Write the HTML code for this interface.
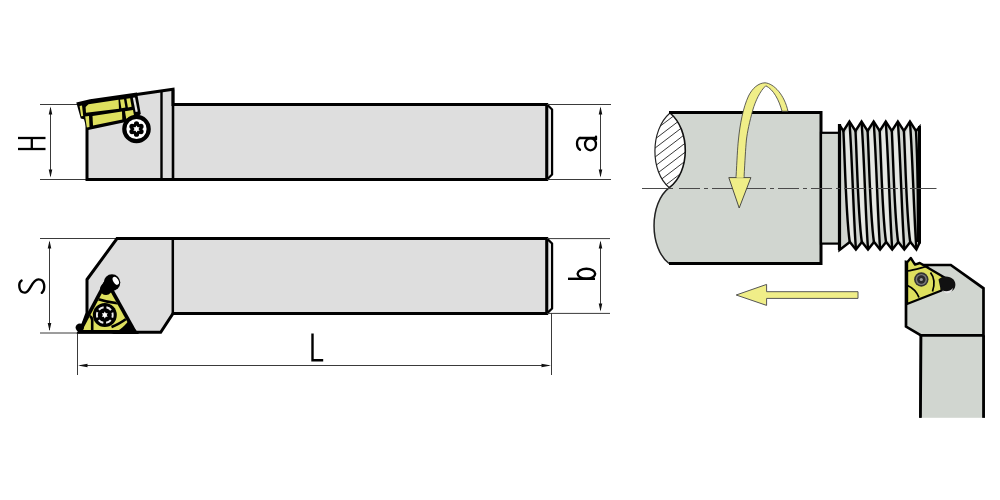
<!DOCTYPE html>
<html><head><meta charset="utf-8">
<style>
html,body{margin:0;padding:0;background:#fff;width:1000px;height:500px;overflow:hidden;font-family:"Liberation Sans",sans-serif;}
svg{display:block;}
</style></head>
<body>
<svg width="1000" height="500" viewBox="0 0 1000 500">
<rect x="0" y="0" width="1000" height="500" fill="#fff"/>

<!-- ========== TOP HOLDER ========== -->
<g id="top">
  <!-- dimension H -->
  <g stroke="#3a3a3a" stroke-width="1" fill="none">
    <line x1="40" y1="104.5" x2="80" y2="104.5"/>
    <line x1="40" y1="179.5" x2="87" y2="179.5"/>
    <line x1="50.5" y1="108" x2="50.5" y2="176"/>
  </g>
  <path d="M50.5 106.5 L48.7 114.5 L52.3 114.5 Z M50.5 177.5 L48.7 169.5 L52.3 169.5 Z" fill="#111"/>
  <g stroke="#000" stroke-width="2.3" fill="none">
    <line x1="18" y1="138" x2="45.5" y2="138"/>
    <line x1="18" y1="149" x2="45.5" y2="149"/>
    <line x1="31.8" y1="138" x2="31.8" y2="149"/>
  </g>
  <!-- body -->
  <path d="M552.1 109.5 L552.1 174.5 L547 179.5 L547 104.5 Z" fill="#e6e6e6" stroke="#000" stroke-width="2.2" stroke-linejoin="round"/>
  <path d="M87 124 L87 179.5 L546.7 179.5 L546.7 104.5 L173 104.5 L173 89.2 L135 94.8 Z" fill="#dedede" stroke="#000" stroke-width="3" stroke-linejoin="miter"/>
  <line x1="161.5" y1="91" x2="161.5" y2="179" stroke="#000" stroke-width="2.4"/>
  <line x1="173" y1="89.5" x2="173" y2="179" stroke="#000" stroke-width="2.6"/>
    <!-- insert -->
  <path d="M76.3 102.5 L90 99.3 L137 92.5 L140.8 114 L133 120.5 L87 130.2 L84 119.2 L80.8 118.6 Z" fill="#000"/>
  <g fill="#dee05e">
    <path d="M79.6 106 L82 105.6 L83.2 116 L81.2 116.3 Z"/>
    <path d="M85.6 107 L88.5 104.3 L118.5 99.8 L119 108.8 L86 112.8 Z"/>
    <path d="M120 99.8 L124 99.2 L125.4 107.6 L121.4 108.2 Z"/>
    <path d="M126.4 98.8 L130.1 98.3 L131.6 106.8 L127.9 107.4 Z"/>
    <path d="M85.2 116.6 L89 116.1 L89.5 127 L86.8 127.6 Z"/>
    <path d="M92.5 116 L122 111.6 L122.3 119.6 L93 125.4 Z"/>
    <path d="M125 111.3 L133 110 L134.3 117 L126.2 118.8 Z"/>
  </g>
  <path d="M132.8 97.8 L135 97.4 L137.8 111.6 L135.6 112.1 Z" fill="#e6e6e6"/>
  <!-- screw -->
  <circle cx="136.5" cy="129" r="12.2" fill="#fff" stroke="#000" stroke-width="4.2"/>
  <g fill="#000">
    <circle cx="136.5" cy="129" r="5.8"/>
    <circle cx="136.50" cy="123.80" r="2.6"/><circle cx="141.00" cy="126.40" r="2.6"/><circle cx="141.00" cy="131.60" r="2.6"/><circle cx="136.50" cy="134.20" r="2.6"/><circle cx="132.00" cy="131.60" r="2.6"/><circle cx="132.00" cy="126.40" r="2.6"/>
  </g>
  <path d="M136.50 125.40 L137.50 127.27 L139.62 127.20 L138.50 129.00 L139.62 130.80 L137.50 130.73 L136.50 132.60 L135.50 130.73 L133.38 130.80 L134.50 129.00 L133.38 127.20 L135.50 127.27 Z" fill="#fff"/>
  <!-- dimension a -->
  <g stroke="#3a3a3a" stroke-width="1" fill="none">
    <line x1="547" y1="104.5" x2="611" y2="104.5"/>
    <line x1="547" y1="179.5" x2="611" y2="179.5"/>
    <line x1="600.5" y1="108" x2="600.5" y2="176"/>
  </g>
  <path d="M600.5 106.5 L598.7 114.5 L602.3 114.5 Z M600.5 177.5 L598.7 169.5 L602.3 169.5 Z" fill="#111"/>
  <g stroke="#000" stroke-width="2.3" fill="none" stroke-linecap="round">
    <path d="M579.5 138 L595.8 138 M596 136.6 L596 139.4"/>
    <ellipse cx="590.5" cy="144.3" rx="5.5" ry="6"/>
    <path d="M580 138 C576 139.5 576 147 580 149.8"/>
  </g>
</g>

<!-- ========== BOTTOM HOLDER ========== -->
<g id="bottom">
  <g stroke="#3a3a3a" stroke-width="1" fill="none">
    <line x1="40" y1="238.5" x2="117" y2="238.5"/>
    <line x1="40" y1="333" x2="78" y2="333"/>
    <line x1="49.5" y1="242" x2="49.5" y2="330"/>
    <line x1="77.5" y1="333" x2="77.5" y2="375"/>
    <line x1="551.5" y1="313" x2="551.5" y2="375"/>
    <line x1="80" y1="365.5" x2="549" y2="365.5"/>
  </g>
  <path d="M49.5 240.5 L47.7 248.5 L51.3 248.5 Z M49.5 331 L47.7 323 L51.3 323 Z M78 365.5 L87.5 363.7 L87.5 367.3 Z M551 365.5 L541.5 363.7 L541.5 367.3 Z" fill="#111"/>
  <path d="M21.6 280.6 C18 283 18.3 293 25.2 292.6 C30.5 292.2 31.5 279.6 38.4 279.4 C45 279.3 45.8 289 41.8 292.8" stroke="#000" stroke-width="2.4" fill="none" stroke-linecap="round"/>
  <!-- body -->
  <path d="M552.1 243.5 L552.1 308.5 L547 313.4 L547 238.6 Z" fill="#e6e6e6" stroke="#000" stroke-width="2.2" stroke-linejoin="round"/>
  <path d="M87 279.5 L117 238.6 L546.7 238.6 L546.7 313.4 L173 313.4 L160.7 332.3 L80 332.3 L87 313 Z" fill="#dedede" stroke="#000" stroke-width="3" stroke-linejoin="miter"/>
  <line x1="172.8" y1="239" x2="172.8" y2="314" stroke="#000" stroke-width="2.5"/>
    <!-- insert -->
  <path d="M103.7 282 L109.3 282 L137.9 333.5 L76.5 333.5 Z" fill="#000"/>
  <path d="M106.5 284.4 L82.5 329.9 L131.8 329.9 Z" fill="#dee05e"/>
  <defs><clipPath id="tri"><path d="M106.5 284.4 L82.5 329.9 L131.8 329.9 Z"/></clipPath></defs>
  <g stroke="#000" fill="none" stroke-width="2.6" clip-path="url(#tri)">
    <path d="M94 298 C100 300 109 302.5 119 303.5"/>
    <path d="M83 314.5 C88 313.5 91.5 316 92.2 320 L92.2 332"/>
    <path d="M111.5 327 C117 325 122 322 127.5 318"/>
  </g>
  <path d="M111 334 C117 332 123.5 327.5 128.5 321 L139 334 Z" fill="#000"/>
  <circle cx="104.8" cy="315" r="12" fill="#000"/>
  <circle cx="104.8" cy="315" r="7.9" fill="none" stroke="#ececec" stroke-width="1.9" stroke-dasharray="5.4 2.87" stroke-dashoffset="2.7"/>
  <path d="M104.80 311.60 L105.75 313.35 L107.74 313.30 L106.70 315.00 L107.74 316.70 L105.75 316.65 L104.80 318.40 L103.85 316.65 L101.86 316.70 L102.90 315.00 L101.86 313.30 L103.85 313.35 Z" fill="#fff"/>
  <path d="M106 289 L111.5 283" stroke="#000" stroke-width="12" stroke-linecap="round"/>
  <circle cx="112" cy="282.6" r="8.3" fill="#000"/>
  <ellipse cx="115.8" cy="280.8" rx="2.6" ry="4.4" fill="#fff" transform="rotate(-30 115.8 280.8)"/>
  <circle cx="79.8" cy="327.6" r="4.2" fill="#000"/>
  <!-- dimension b -->
  <g stroke="#3a3a3a" stroke-width="1" fill="none">
    <line x1="547" y1="238.6" x2="610" y2="238.6"/>
    <line x1="547" y1="313.4" x2="610" y2="313.4"/>
    <line x1="600.5" y1="242" x2="600.5" y2="310"/>
  </g>
  <path d="M600.5 240.6 L598.7 248.6 L602.3 248.6 Z M600.5 311.4 L598.7 303.4 L602.3 303.4 Z" fill="#111"/>
  <g stroke="#000" stroke-width="2.4" fill="none">
    <line x1="568" y1="278.8" x2="595" y2="278.8"/>
    <ellipse cx="586.4" cy="273.8" rx="8.8" ry="5"/>
  </g>
  <!-- L -->
  <path d="M312.5 333.6 L312.5 360.2 L323.2 360.2" stroke="#000" stroke-width="2.4" fill="none"/>
</g>

<!-- ========== RIGHT SIDE ========== -->
<g id="right">
  <!-- workpiece -->
  <path d="M669 112.6 L821 112.6 L821 263.5 L669 263.5 C649 248 649 203 669.3 187.7 Z" fill="#d1d6d0"/>
  <defs><clipPath id="lens"><path d="M670 113 C650 130 650 172 669.3 187.7 C690.5 172 690.5 130 670 113 Z"/></clipPath></defs>
  <path d="M670 113 C650 130 650 172 669.3 187.7 C690.5 172 690.5 130 670 113 Z" fill="#fff"/>
  <g stroke="#222" stroke-width="0.9" clip-path="url(#lens)">
    <line x1="650" y1="124.9" x2="690" y2="94.5"/><line x1="650" y1="133.9" x2="690" y2="103.5"/><line x1="650" y1="142.9" x2="690" y2="112.5"/><line x1="650" y1="151.9" x2="690" y2="121.5"/><line x1="650" y1="160.9" x2="690" y2="130.5"/><line x1="650" y1="169.9" x2="690" y2="139.5"/><line x1="650" y1="178.9" x2="690" y2="148.5"/><line x1="650" y1="187.9" x2="690" y2="157.5"/><line x1="650" y1="196.9" x2="690" y2="166.5"/>
  </g>
  <path d="M670 113 C650 130 650 172 669.3 187.7" fill="none" stroke="#222" stroke-width="1.2"/>
  <path d="M669.3 187.7 C690.5 172 690.5 130 670 113" fill="none" stroke="#111" stroke-width="1.6"/>
  <path d="M669.3 187.7 C649 203 649 248 669 263.5" fill="none" stroke="#222" stroke-width="1.5"/>
  <path d="M669 112.6 L821 112.6 L821 263.5 L669 263.5" fill="none" stroke="#000" stroke-width="3"/>
  <!-- neck -->
  <rect x="821" y="132.8" width="19" height="110.8" fill="#d1d6d0" stroke="#000" stroke-width="2.2"/>
  <!-- thread -->
  <path d="M839.5 125 L843.4 131 L849.45 121.5 L855.50 131 L861.55 121.5 L867.60 131 L873.65 121.5 L879.70 131 L885.75 121.5 L891.80 131 L897.85 121.5 L903.90 131 L909.95 121.5 L916.00 131 L919.5 127 L919.5 243 L916.40 249.5 L910.35 242 L904.30 249.5 L898.25 242 L892.20 249.5 L886.15 242 L880.10 249.5 L874.05 242 L868.00 249.5 L861.95 242 L855.90 249.5 L849.85 242 L839.5 250 Z" fill="#d0d4cf" stroke="#000" stroke-width="2.4" stroke-linejoin="miter" stroke-miterlimit="3"/>
  <g fill="#e6e8e4">
    <path d="M845.20 134 C846.60 160 847.60 215 851.20 241 L853.90 242 C851.40 215 850.40 150 848.40 126.5 Z"/><path d="M857.30 134 C858.70 160 859.70 215 863.30 241 L866.00 242 C863.50 215 862.50 150 860.50 126.5 Z"/><path d="M869.40 134 C870.80 160 871.80 215 875.40 241 L878.10 242 C875.60 215 874.60 150 872.60 126.5 Z"/><path d="M881.50 134 C882.90 160 883.90 215 887.50 241 L890.20 242 C887.70 215 886.70 150 884.70 126.5 Z"/><path d="M893.60 134 C895.00 160 896.00 215 899.60 241 L902.30 242 C899.80 215 898.80 150 896.80 126.5 Z"/><path d="M905.70 134 C907.10 160 908.10 215 911.70 241 L914.40 242 C911.90 215 910.90 150 908.90 126.5 Z"/>
  </g>
  <g stroke="#000" fill="none" stroke-width="2.4">
    <path d="M843.40 131 C844.90 160 845.90 215 849.70 242"/><path d="M849.45 122.5 C851.90 150 853.40 215 855.90 248.5"/><path d="M855.50 131 C857.00 160 858.00 215 861.80 242"/><path d="M861.55 122.5 C864.00 150 865.50 215 868.00 248.5"/><path d="M867.60 131 C869.10 160 870.10 215 873.90 242"/><path d="M873.65 122.5 C876.10 150 877.60 215 880.10 248.5"/><path d="M879.70 131 C881.20 160 882.20 215 886.00 242"/><path d="M885.75 122.5 C888.20 150 889.70 215 892.20 248.5"/><path d="M891.80 131 C893.30 160 894.30 215 898.10 242"/><path d="M897.85 122.5 C900.30 150 901.80 215 904.30 248.5"/><path d="M903.90 131 C905.40 160 906.40 215 910.20 242"/><path d="M909.95 122.5 C912.40 150 913.90 215 916.40 248.5"/><path d="M916.00 131 C917.50 160 918.50 215 917.50 242"/>
  </g>
  <line x1="839.5" y1="124" x2="839.5" y2="250" stroke="#000" stroke-width="3.2"/>
  <line x1="919.5" y1="126" x2="919.5" y2="243.5" stroke="#000" stroke-width="3"/>
  <!-- centerline -->
  <g stroke="#4a4a4a" stroke-width="1">
    <line x1="642" y1="188.5" x2="673" y2="188.5"/>
    <line x1="679" y1="188.5" x2="931" y2="188.5" stroke-dasharray="21 4 4 4"/>
    <line x1="910" y1="188.5" x2="936.5" y2="188.5"/>
  </g>
  <!-- curved arrow -->
  <path d="M736 178 C737 160 737.5 148 738.4 140 C740 124 743 108 748.5 96 C752.5 88 758.5 83 765 82.8 C774 83.5 784.5 95 788 111.3 L782 111.3 C779 100 773.5 89.5 765.8 85.8 C760 91 755.5 101 752.8 110 C749.5 122 747.3 132 746.4 140 C745.5 150 745 160 744 178 Z" fill="#f0ee88" stroke="#3a3a3a" stroke-width="0.8" stroke-linejoin="round"/>
  <path d="M728.8 177.6 L750.9 177.6 L739.2 208 Z" fill="#f0ee88" stroke="#3a3a3a" stroke-width="0.9" stroke-linejoin="miter"/>
  <path d="M736.6 177 L743.5 177" stroke="#f0ee88" stroke-width="1.6"/>
  <!-- straight arrow -->
  <path d="M736.2 295 L766.6 284.4 L766.6 291.7 L858 291.7 L858 298.4 L766.6 298.4 L766.6 305.4 Z" fill="#f0ee88" stroke="#555" stroke-width="1"/>
  <!-- right tool -->
  <path d="M921 335.4 L920.5 417.8 M983.5 335.4 L983.5 417.8" stroke="#000" stroke-width="2.7"/>
  <rect x="921" y="335.4" width="62.5" height="82.4" fill="#d1d6d0"/>
  <path d="M921 335.4 L920.5 417.8 M983.5 335.4 L983.5 417.8" stroke="#000" stroke-width="2.7"/>
  <path d="M906 262 L906 326.6 L921 335.4 L983.5 335.4 L983.5 288.3 L950.8 265 L919 265 Z" fill="#d1d6d0" stroke="#000" stroke-width="2.7" stroke-linejoin="miter"/>
  <!-- insert -->
  <path d="M910.8 258 L915 264.6 L919.8 263 L944.5 277.5 L941.5 290.5 L907 304 L907 262.5 Z" fill="#dee05e" stroke="#000" stroke-width="2.4" stroke-linejoin="round"/>
  <g stroke="#000" stroke-width="1.7" fill="none">
    <path d="M907.5 271 C914 270 922 267.5 928.5 266"/>
    <path d="M907.5 285.5 C912 287.5 916.5 291 919 297.5"/>
    <path d="M930.5 272.5 C934 277 935 284 932.5 291.5"/>
  </g>
  <path d="M938.5 279.5 C942 275.5 949.5 275.5 953.5 279.5 C956.5 283 956 289 951.5 291.2 C947 293 942.5 291.5 940.5 289 Z" fill="#111"/>
  <path d="M942.5 290.6 C946.5 292 950.5 291 952.8 288 C952.8 291 950 293.5 946 293.3 Z" fill="#e8e8e8"/>
  <circle cx="921.3" cy="279.5" r="7.2" fill="#333"/>
  <circle cx="921.3" cy="279.5" r="5.6" fill="#7a7a7a"/>
  <circle cx="921.3" cy="279.5" r="4.2" fill="#2a2a2a"/>
  <circle cx="921.3" cy="279.5" r="1.6" fill="#9a9a9a"/>
</g>
</svg>
</body></html>
